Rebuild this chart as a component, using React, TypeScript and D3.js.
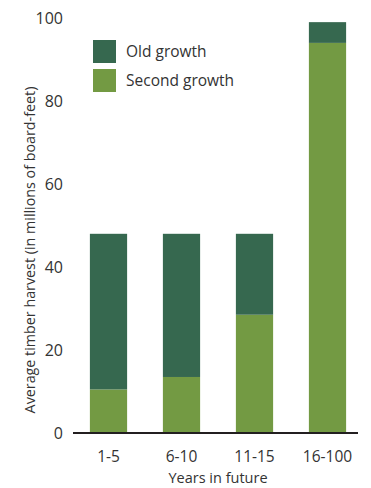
import React from "react";
import * as d3 from "d3";

const categories = ["1-5", "6-10", "11-15", "16-100"];
const secondGrowth = [10.5, 13.5, 28.5, 94];
const oldGrowth = [37.5, 34.5, 19.5, 5];
const yTicks = [0, 20, 40, 60, 80, 100];
const seriesNames = ["Old growth", "Second growth"];
const seriesColors = ["#36684f", "#739a43"];

const W = 371;
const H = 488;
const FONT = "'Open Sans', 'Noto Sans', sans-serif";
const TEXT = "#333333";

export default function App() {
  const y = d3.scaleLinear().domain([0, 100]).range([433, 18]);
  const x = d3.scaleBand().domain(categories).range([72, 364]).paddingInner(0.49).paddingOuter(0.245);

  const rows = categories.map((c, i) => ({ cat: c, second: secondGrowth[i], old: oldGrowth[i] }));
  const stack = d3.stack<any>().keys(["second", "old"])(rows);
  const colorFor: Record<string, string> = { second: seriesColors[1], old: seriesColors[0] };

  return (
    <svg width={W} height={H} style={{ position: "absolute", left: 0, top: 0, background: "#fff" }}>
      {stack.map((layer) =>
        layer.map((d, i) => (
          <rect
            key={layer.key + i}
            x={x(categories[i])}
            width={x.bandwidth()}
            y={y(d[1])}
            height={y(d[0]) - y(d[1])}
            fill={colorFor[layer.key]}
          />
        ))
      )}
      <line x1={73} x2={358} y1={y(0)} y2={y(0)} stroke="#231f20" strokeWidth={2} />
      {yTicks.map((t) => (
        <text key={t} x={63} y={y(t)} dy="0.35em" textAnchor="end" fontFamily={FONT} fontSize={16} fill={TEXT}>
          {t}
        </text>
      ))}
      {categories.map((c) => (
        <text key={c} x={(x(c) as number) + x.bandwidth() / 2} y={462} textAnchor="middle" fontFamily={FONT} fontSize={15.5} fill={TEXT}>
          {c}
        </text>
      ))}
      <text x={218} y={483} textAnchor="middle" fontFamily={FONT} fontSize={14.5} fill={TEXT}>
        Years in future
      </text>
      <text
        transform={`translate(35,250) rotate(-90)`}
        textAnchor="middle"
        fontFamily={FONT}
        fontSize={14.3}
        fill={TEXT}
      >
        Average timber harvest (in millions of board-feet)
      </text>
      {seriesNames.map((n, i) => (
        <g key={n} transform={`translate(93,${40 + i * 29})`}>
          <rect width={23} height={23} fill={seriesColors[i]} />
          <text x={33} y={11.5} dy="0.35em" fontFamily={FONT} fontSize={15.5} fill={TEXT}>
            {n}
          </text>
        </g>
      ))}
    </svg>
  );
}
